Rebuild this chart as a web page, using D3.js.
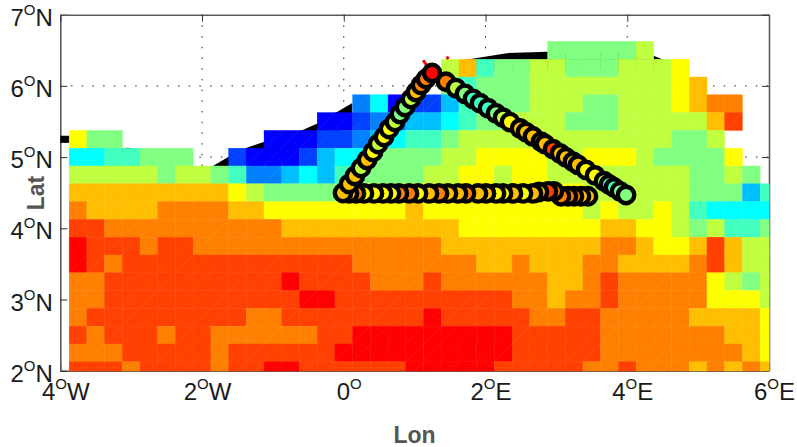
<!DOCTYPE html>
<html>
<head>
<meta charset="utf-8">
<script src="https://d3js.org/d3.v7.min.js"></script>
<style>
  body { margin: 0; background: #fff; }
  text { font-family: "Liberation Sans", Arial, sans-serif; }
</style>
</head>
<body>
<div id="chart"></div>
<script>
// tick values and labels
const lonTicks = [-4, -2, 0, 2, 4, 6]
const lonTickLabels = ["4", "2", "0", "2", "4", "6"]
const lonTickHemi = ["W", "W", "", "E", "E", "E"]
const latTicks = [2, 3, 4, 5, 6, 7]
const latTickLabels = ["2", "3", "4", "5", "6", "7"]

// grid cell centres
const cellLons = d3.range(40).map(i => -3.75 + i * 0.25)
const cellLats = [6.5, 6.25, 6, 5.75, 5.5, 5.25, 5, 4.75, 4.5, 4.25, 4, 3.75, 3.5, 3.25, 3, 2.75, 2.5, 2.25, 2]

// one letter per cell, a (warmest) to m (coldest), . = no data
const cellLevels = [
  "...........................gggggf.......",
  ".....................fdhggffgggfffe.....",
  ".....................ghgggffffffffed....",
  "................kimlljhgggfffggfffedcc..",
  "..............mmlkkjjihggfffgggfffffdb..",
  "egg........mmmllkjihhgffffffffffffggf...",
  "iihhggg..lmmmljiiggggffeeeeffeeefgggge..",
  "fffffgffghkkjijhggggffeefeeffffffffggfg.",
  "dddddddddefgggggeeeeeeeeeeeeeffffffgggjh",
  "cddddccccddeeeeeeeedeeeeeeeeefeffefhiiii",
  "bbccccccccccddddddddddeeeeeeeeddeefgfhhg",
  "abbbcbbccccccccccccccdddddddddccdeedbdff",
  "abcbbbbbbbbbbbbbcccccccddcdddccddddcbdff",
  "ccbbbbbbbbbbabbbbcccbccccccddcbcccccefgf",
  "ccbbbbbbbbbbbaabbbbbbbbbbccdccbccccceeef",
  "cbbbbbbbbbccbbbbbbbbabbbbbccbbcccccdddde",
  "bcbbbcbbccccccbbaaaaaaaaabbbbbcccccccdde",
  "cccbbbbbcbbbbbbaaaaaaaaaabbbbbccccccccde",
  "bbbcbbbbcbbaabbbbbbaaaaabbbbbccbcccdcdcd"
]
const levelOrder = ["a", "b", "c", "d", "e", "f", "g", "h", "i", "j", "k", "l", "m"]

// coast pieces [lon, lat], the cells are painted over their lower part
const landLeft = [[-4, 5.3], [-3.87, 5.3], [-3.87, 5.2], [-4, 5.2]]
const landWedge = [[-3.13, 5.12], [-3.045, 5.13], [-2.875, 5.1], [-2.875, 5.06], [-3.13, 5.06]]
const landMiddle = [[-1.89, 4.85], [-1.63, 5], [-1.37, 5.13], [-1.14, 5.21], [-0.58, 5.38], [-0.38, 5.47], [-0.12, 5.62], [0.12, 5.76], [0.12, 5.45], [-1.14, 4.89], [-1.63, 4.85]]
const landRight = [[1.68, 6.36], [2.3, 6.46], [2.87, 6.48], [4.18, 6.48], [4.38, 6.42], [4.53, 6.36], [4.53, 6.22], [1.68, 6.22]]

// red ship track poking out behind the markers
const redTrackA = [[1.12, 6.36], [1.245, 6.18]]
const redTrackB = [[1.45, 6.38], [1.48, 6.41]]

// stations along the track, in drawing order
const stationLon = [
  1.442, 1.583, 1.71, 1.823, 1.922, 2.035, 2.148, 2.247, 2.345, 2.487, 2.571, 2.67, 2.783,
  2.839, 2.952, 3.051, 3.135, 3.234, 3.305, 3.418, 3.545, 3.672, 3.743, 3.813, 3.898, 3.983,
  3.446, 3.347, 3.248, 3.163, 3.065, 2.966, 2.882, 2.754, 2.67, 2.529, 2.388, 2.247, 2.148, 2.007, 1.894,
  1.725, 1.612, 1.471, 1.344, 1.203, 1.048, 0.921, 0.779, 0.666, 0.553, 0.426, 0.285, 0.172, 0.074,
  -0.011, 0.074, 0.158, 0.243, 0.328, 0.413, 0.484, 0.568, 0.639, 0.723, 0.793, 0.864, 0.948, 1.019, 1.09, 1.16, 1.245
]
const stationLat = [
  6.058, 5.969, 5.889, 5.819, 5.757, 5.687, 5.615, 5.553, 5.492, 5.403, 5.351, 5.289, 5.218,
  5.183, 5.112, 5.051, 4.997, 4.935, 4.892, 4.82, 4.742, 4.662, 4.618, 4.573, 4.52, 4.468,
  4.45, 4.45, 4.45, 4.45, 4.45, 4.52, 4.52, 4.51, 4.49, 4.49, 4.49, 4.49, 4.49, 4.49, 4.49,
  4.49, 4.49, 4.49, 4.49, 4.49, 4.49, 4.49, 4.49, 4.49, 4.49, 4.49, 4.49, 4.49, 4.49,
  4.496, 4.622, 4.735, 4.847, 4.959, 5.072, 5.184, 5.283, 5.395, 5.493, 5.605, 5.704, 5.816, 5.914, 6.013, 6.097, 6.181
]
const stationLevel = [
  "c", "f", "g", "h", "h", "h", "g", "f", "e", "d", "d", "d", "d",
  "d", "b", "d", "d", "d", "d", "e", "e", "f", "h", "h", "g", "g",
  "d", "d", "c", "c", "c", "c", "b", "d", "d", "e", "d", "e", "e", "d", "d",
  "c", "d", "d", "c", "d", "e", "c", "c", "e", "e", "e", "e", "c", "d",
  "d", "d", "d", "f", "d", "e", "f", "e", "e", "f", "g", "g", "f", "d", "c", "c", "a"
]

const svg = d3.select("#chart")
    .append("svg")
    .attr("width", 797)
    .attr("height", 447)

const margin = { top: 14.7, left: 60.3, right: 769, bottom: 370.7 }

const x = d3.scaleLinear().domain([-4, 6]).range([margin.left, margin.right])
const y = d3.scaleLinear().domain([2, 7]).range([margin.bottom, margin.top])

const color = d3.scaleOrdinal()
    .domain(levelOrder)
    .range(["#ff0000", "#ff4000", "#ff8000", "#ffbf00", "#ffff00", "#bfff40", "#80ff80",
            "#40ffbf", "#00ffff", "#00bfff", "#0080ff", "#0040ff", "#0000ff"])

svg.append("clipPath").attr("id", "box")
    .append("rect")
    .attr("x", margin.left).attr("y", margin.top)
    .attr("width", margin.right - margin.left + 0.5).attr("height", margin.bottom - margin.top + 0.5)

// dotted grid sits under everything
svg.selectAll(".vgrid")
    .data(lonTicks.slice(1, -1))
    .enter().append("line")
    .attr("x1", d => x(d)).attr("x2", d => x(d))
    .attr("y1", margin.top).attr("y2", margin.bottom)
    .attr("stroke", "#222").attr("stroke-dasharray", "1.5 9.2")

svg.selectAll(".hgrid")
    .data(latTicks.slice(1, -1))
    .enter().append("line")
    .attr("y1", d => y(d)).attr("y2", d => y(d))
    .attr("x1", margin.left).attr("x2", margin.right)
    .attr("stroke", "#222").attr("stroke-dasharray", "1.5 9.2")

function styleAxis(g) {
  g.select(".domain").attr("stroke", "#5a5a5a").attr("stroke-width", 1.6)
  g.selectAll(".tick line").attr("stroke", "#333").attr("stroke-width", 1)
}

// number, small raised O, hemisphere letter
function degreeLabel(sel, num, hemi) {
  sel.each(function(d, i) {
    const t = d3.select(this).text(null)
    t.append("tspan").text(num[i])
    t.append("tspan").attr("font-size", 15).attr("dy", -11).text("O")
    t.append("tspan").attr("dy", 11).text(hemi ? hemi[i] : "N")
  })
}

const xAxis = svg.append("g")
    .attr("transform", "translate(0," + margin.bottom + ")")
    .call(d3.axisBottom(x).tickValues(lonTicks).tickSizeInner(-7).tickSizeOuter(0).tickPadding(0))
    .call(styleAxis)
xAxis.selectAll("text")
    .attr("y", 0).attr("dy", 29.3).attr("dx", 5)
    .attr("font-size", 24).attr("fill", "#1a1a1a")
    .call(degreeLabel, lonTickLabels, lonTickHemi)

const yAxis = svg.append("g")
    .attr("transform", "translate(" + margin.left + ",0)")
    .call(d3.axisLeft(y).tickValues(latTicks).tickSizeInner(-7).tickSizeOuter(0).tickPadding(7.5))
    .call(styleAxis)
yAxis.selectAll("text")
    .attr("dy", 10.5)
    .attr("font-size", 24).attr("fill", "#1a1a1a")
    .call(degreeLabel, latTickLabels)

svg.append("g")
    .attr("transform", "translate(0," + margin.top + ")")
    .call(d3.axisTop(x).tickValues(lonTicks).tickSizeInner(-7).tickSizeOuter(0).tickFormat(""))
    .call(styleAxis)

svg.append("g")
    .attr("transform", "translate(" + margin.right + ",0)")
    .call(d3.axisRight(y).tickValues(latTicks).tickSizeInner(-7).tickSizeOuter(0).tickFormat(""))
    .call(styleAxis)

// land
const landLine = d3.line().x(d => x(d[0])).y(d => y(d[1]))
svg.selectAll(".land")
    .data([landLeft, landWedge, landMiddle, landRight])
    .enter().append("path")
    .attr("d", d => landLine(d) + "Z")
    .attr("fill", "#000")

// cells
const cells = []
cellLevels.forEach(function(row, r) {
  cellLons.forEach(function(lon, c) {
    if (row[c] !== ".") cells.push({ lon: lon, lat: cellLats[r], level: row[c] })
  })
})

const cellG = svg.append("g").attr("clip-path", "url(#box)")

cellG.selectAll("rect")
    .data(cells)
    .enter().append("rect")
    .attr("x", d => x(d.lon - 0.125))
    .attr("y", d => y(d.lat + 0.125))
    .attr("width", x(0.25) - x(0))
    .attr("height", y(0) - y(0.25))
    .attr("fill", d => color(d.level))
    .attr("stroke", d => color(d.level)).attr("stroke-width", 0.4)

// the faint diagonal every cell has in the original
cellG.selectAll("line")
    .data(cells)
    .enter().append("line")
    .attr("x1", d => x(d.lon - 0.125)).attr("y1", d => y(d.lat - 0.125))
    .attr("x2", d => x(d.lon + 0.125)).attr("y2", d => y(d.lat + 0.125))
    .attr("stroke", "#fff").attr("stroke-opacity", 0.1).attr("stroke-width", 0.8)

// track and stations
svg.selectAll(".redtrack")
    .data([redTrackA, redTrackB])
    .enter().append("path")
    .attr("d", landLine)
    .attr("fill", "none").attr("stroke", "#ff0000").attr("stroke-width", 3)

svg.selectAll(".station")
    .data(stationLon)
    .enter().append("circle")
    .attr("cx", d => x(d))
    .attr("cy", (d, i) => y(stationLat[i]))
    .attr("r", 8.2)
    .attr("fill", (d, i) => color(stationLevel[i]))
    .attr("stroke", "#000").attr("stroke-width", 4.4)

// axis titles
svg.append("text")
    .attr("x", 414.5).attr("y", 443)
    .attr("text-anchor", "middle")
    .attr("font-size", 23).attr("font-weight", "bold").attr("fill", "#555")
    .text("Lon")

svg.append("text")
    .attr("transform", "translate(44,193) rotate(-90)")
    .attr("text-anchor", "middle")
    .attr("font-size", 23).attr("font-weight", "bold").attr("fill", "#555")
    .text("Lat")
</script>
</body>
</html>
